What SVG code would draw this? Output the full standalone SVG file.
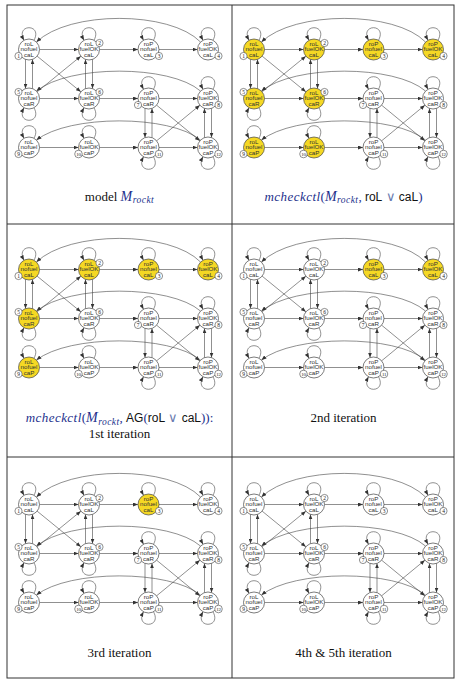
<svg xmlns="http://www.w3.org/2000/svg" xmlns:xlink="http://www.w3.org/1999/xlink" width="462" height="686" viewBox="0 0 462 686">
<style>
.frame{fill:none;stroke:#333;stroke-width:1}
.e path{fill:none;stroke:#444;stroke-width:0.6;marker-end:url(#ah)}
.n{fill:#fff;stroke:#444;stroke-width:0.7}
.y .n{fill:#f5d824}
.t{font-family:"Liberation Sans",Arial,sans-serif;font-size:6.2px;fill:#333;text-anchor:middle}
.l{fill:#fff;stroke:#444;stroke-width:0.6}
.lt{font-family:"Liberation Serif","Times New Roman",serif;font-size:5.5px;fill:#222;text-anchor:middle}
.lt2{font-family:"Liberation Serif","Times New Roman",serif;font-size:5px;fill:#222;text-anchor:middle;letter-spacing:-0.3px}
.cap{font-family:"Liberation Serif","Times New Roman",serif;font-size:13px;fill:#111;text-anchor:middle}
.m{fill:#23308c;font-style:italic;letter-spacing:0.45px}
.mM{font-size:14px}
.mu{fill:#23308c}
.sub{font-size:9.5px}
.sf{font-family:"Liberation Sans",Arial,sans-serif;font-size:12px;fill:#111}
.op{fill:#6a7bb0}
</style>
<defs>
<marker id="ah" markerUnits="userSpaceOnUse" markerWidth="5" markerHeight="4" refX="5" refY="2" orient="auto"><path d="M0,0 L5,2 L0,4 z" fill="#333"/></marker>
<g id="edges" class="e">
<path d="M32.5,45 H71.5"/><path d="M92.5,45 H131"/><path d="M152,45 H190.5"/>
<path d="M32.5,94 H71.5"/><path d="M92.5,94 H131"/><path d="M152,94 H190.5"/>
<path d="M32.5,143 H71.5"/><path d="M92.5,143 H131"/><path d="M152,143 H190.5"/>
<path d="M18.5,54.9 V84.1"/><path d="M25.5,84.1 V54.9"/>
<path d="M78.5,84.1 V54.9"/><path d="M85.5,54.9 V84.1"/>
<path d="M138,103.9 V133.1"/><path d="M145,133.1 V103.9"/>
<path d="M197.5,133.1 V103.9"/><path d="M204.5,103.9 V133.1"/>
<path d="M30.13,51.64 L73.87,87.36"/><path d="M30.13,87.36 L73.87,51.64"/>
<path d="M149.6,100.67 L192.9,136.33"/><path d="M149.6,136.33 L192.9,100.67"/>
<path d="M193.58,37.58 C163,6 62,6 29.42,37.58"/>
<path d="M193.58,86.58 C163,60 62,60 29.42,86.58"/>
<path d="M193.58,135.58 C163,110 62,110 29.42,135.58"/>
<path d="M27,35.77 C36,19 8,19 17,35.77"/><path d="M87,35.77 C96,19 68,19 77,35.77"/>
<path d="M146.5,35.77 C155.5,19 127.5,19 136.5,35.77"/><path d="M206,35.77 C215,19 187,19 196,35.77"/>
<path d="M146.5,84.77 C155.5,68 127.5,68 136.5,84.77"/><path d="M206,84.77 C215,68 187,68 196,84.77"/>
<path d="M27,133.77 C36,117 8,117 17,133.77"/><path d="M87,133.77 C96,117 68,117 77,133.77"/>
<path d="M27,103.23 C36,120 8,120 17,103.23"/><path d="M87,103.23 C96,120 68,120 77,103.23"/>
<path d="M146.5,152.23 C155.5,169 127.5,169 136.5,152.23"/><path d="M206,152.23 C215,169 187,169 196,152.23"/>
</g>
</defs>
<rect x="0" y="0" width="462" height="686" fill="#fff"/>
<rect class="frame" x="7" y="5" width="447" height="673"/>
<line class="frame" x1="232" y1="5" x2="232" y2="678"/>
<line class="frame" x1="7" y1="224" x2="454" y2="224"/>
<line class="frame" x1="7" y1="457" x2="454" y2="457"/>

<g id="panel1" transform="translate(7,4.5)">
<g id="p1-connectors"><use href="#edges" xlink:href="#edges"/></g>
<g id="p1-n1" transform="translate(22,45)"><circle class="n" r="10.5"/><text class="t"><tspan x="0" y="-4">roL</tspan><tspan x="0" y="1.7">nofuel</tspan><tspan x="0" y="7.4">caL</tspan></text><circle class="l" cx="-10.5" cy="6.5" r="3.6"/><text class="lt" x="-10.5" y="8.4">1</text></g>
<g id="p1-n2" transform="translate(82,45)"><circle class="n" r="10.5"/><text class="t"><tspan x="0" y="-4">roL</tspan><tspan x="0" y="1.7">fuelOK</tspan><tspan x="0" y="7.4">caL</tspan></text><circle class="l" cx="10.5" cy="-6.5" r="3.6"/><text class="lt" x="10.5" y="-4.6">2</text></g>
<g id="p1-n3" transform="translate(141.5,45)"><circle class="n" r="10.5"/><text class="t"><tspan x="0" y="-4">roP</tspan><tspan x="0" y="1.7">nofuel</tspan><tspan x="0" y="7.4">caL</tspan></text><circle class="l" cx="10.5" cy="6.5" r="3.6"/><text class="lt" x="10.5" y="8.4">3</text></g>
<g id="p1-n4" transform="translate(201,45)"><circle class="n" r="10.5"/><text class="t"><tspan x="0" y="-4">roP</tspan><tspan x="0" y="1.7">fuelOK</tspan><tspan x="0" y="7.4">caL</tspan></text><circle class="l" cx="10.5" cy="6.5" r="3.6"/><text class="lt" x="10.5" y="8.4">4</text></g>
<g id="p1-n5" transform="translate(22,94)"><circle class="n" r="10.5"/><text class="t"><tspan x="0" y="-4">roL</tspan><tspan x="0" y="1.7">nofuel</tspan><tspan x="0" y="7.4">caR</tspan></text><circle class="l" cx="-10.5" cy="-6.5" r="3.6"/><text class="lt" x="-10.5" y="-4.6">5</text></g>
<g id="p1-n6" transform="translate(82,94)"><circle class="n" r="10.5"/><text class="t"><tspan x="0" y="-4">roL</tspan><tspan x="0" y="1.7">fuelOK</tspan><tspan x="0" y="7.4">caR</tspan></text><circle class="l" cx="10.5" cy="-6.5" r="3.6"/><text class="lt" x="10.5" y="-4.6">6</text></g>
<g id="p1-n7" transform="translate(141.5,94)"><circle class="n" r="10.5"/><text class="t"><tspan x="0" y="-4">roP</tspan><tspan x="0" y="1.7">nofuel</tspan><tspan x="0" y="7.4">caR</tspan></text><circle class="l" cx="-10.5" cy="6.5" r="3.6"/><text class="lt" x="-10.5" y="8.4">7</text></g>
<g id="p1-n8" transform="translate(201,94)"><circle class="n" r="10.5"/><text class="t"><tspan x="0" y="-4">roP</tspan><tspan x="0" y="1.7">fuelOK</tspan><tspan x="0" y="7.4">caR</tspan></text><circle class="l" cx="10.5" cy="6.5" r="3.6"/><text class="lt" x="10.5" y="8.4">8</text></g>
<g id="p1-n9" transform="translate(22,143)"><circle class="n" r="10.5"/><text class="t"><tspan x="0" y="-4">roL</tspan><tspan x="0" y="1.7">nofuel</tspan><tspan x="0" y="7.4">caP</tspan></text><circle class="l" cx="-10.5" cy="6.5" r="3.6"/><text class="lt" x="-10.5" y="8.4">9</text></g>
<g id="p1-n10" transform="translate(82,143)"><circle class="n" r="10.5"/><text class="t"><tspan x="0" y="-4">roL</tspan><tspan x="0" y="1.7">fuelOK</tspan><tspan x="0" y="7.4">caP</tspan></text><circle class="l" cx="-10.5" cy="6.5" r="3.8"/><text class="lt2" x="-10.5" y="8.2">10</text></g>
<g id="p1-n11" transform="translate(141.5,143)"><circle class="n" r="10.5"/><text class="t"><tspan x="0" y="-4">roP</tspan><tspan x="0" y="1.7">nofuel</tspan><tspan x="0" y="7.4">caP</tspan></text><circle class="l" cx="10.5" cy="6.5" r="3.8"/><text class="lt2" x="10.5" y="8.2">11</text></g>
<g id="p1-n12" transform="translate(201,143)"><circle class="n" r="10.5"/><text class="t"><tspan x="0" y="-4">roP</tspan><tspan x="0" y="1.7">fuelOK</tspan><tspan x="0" y="7.4">caP</tspan></text><circle class="l" cx="10.5" cy="6.5" r="3.8"/><text class="lt2" x="10.5" y="8.2">12</text></g>
</g>

<g id="panel2" transform="translate(232,4.5)">
<g id="p2-connectors"><use href="#edges" xlink:href="#edges"/></g>
<g id="p2-n1" class="y" transform="translate(22,45)"><circle class="n" r="10.5"/><text class="t"><tspan x="0" y="-4">roL</tspan><tspan x="0" y="1.7">nofuel</tspan><tspan x="0" y="7.4">caL</tspan></text><circle class="l" cx="-10.5" cy="6.5" r="3.6"/><text class="lt" x="-10.5" y="8.4">1</text></g>
<g id="p2-n2" class="y" transform="translate(82,45)"><circle class="n" r="10.5"/><text class="t"><tspan x="0" y="-4">roL</tspan><tspan x="0" y="1.7">fuelOK</tspan><tspan x="0" y="7.4">caL</tspan></text><circle class="l" cx="10.5" cy="-6.5" r="3.6"/><text class="lt" x="10.5" y="-4.6">2</text></g>
<g id="p2-n3" class="y" transform="translate(141.5,45)"><circle class="n" r="10.5"/><text class="t"><tspan x="0" y="-4">roP</tspan><tspan x="0" y="1.7">nofuel</tspan><tspan x="0" y="7.4">caL</tspan></text><circle class="l" cx="10.5" cy="6.5" r="3.6"/><text class="lt" x="10.5" y="8.4">3</text></g>
<g id="p2-n4" class="y" transform="translate(201,45)"><circle class="n" r="10.5"/><text class="t"><tspan x="0" y="-4">roP</tspan><tspan x="0" y="1.7">fuelOK</tspan><tspan x="0" y="7.4">caL</tspan></text><circle class="l" cx="10.5" cy="6.5" r="3.6"/><text class="lt" x="10.5" y="8.4">4</text></g>
<g id="p2-n5" class="y" transform="translate(22,94)"><circle class="n" r="10.5"/><text class="t"><tspan x="0" y="-4">roL</tspan><tspan x="0" y="1.7">nofuel</tspan><tspan x="0" y="7.4">caR</tspan></text><circle class="l" cx="-10.5" cy="-6.5" r="3.6"/><text class="lt" x="-10.5" y="-4.6">5</text></g>
<g id="p2-n6" class="y" transform="translate(82,94)"><circle class="n" r="10.5"/><text class="t"><tspan x="0" y="-4">roL</tspan><tspan x="0" y="1.7">fuelOK</tspan><tspan x="0" y="7.4">caR</tspan></text><circle class="l" cx="10.5" cy="-6.5" r="3.6"/><text class="lt" x="10.5" y="-4.6">6</text></g>
<g id="p2-n7" transform="translate(141.5,94)"><circle class="n" r="10.5"/><text class="t"><tspan x="0" y="-4">roP</tspan><tspan x="0" y="1.7">nofuel</tspan><tspan x="0" y="7.4">caR</tspan></text><circle class="l" cx="-10.5" cy="6.5" r="3.6"/><text class="lt" x="-10.5" y="8.4">7</text></g>
<g id="p2-n8" transform="translate(201,94)"><circle class="n" r="10.5"/><text class="t"><tspan x="0" y="-4">roP</tspan><tspan x="0" y="1.7">fuelOK</tspan><tspan x="0" y="7.4">caR</tspan></text><circle class="l" cx="10.5" cy="6.5" r="3.6"/><text class="lt" x="10.5" y="8.4">8</text></g>
<g id="p2-n9" class="y" transform="translate(22,143)"><circle class="n" r="10.5"/><text class="t"><tspan x="0" y="-4">roL</tspan><tspan x="0" y="1.7">nofuel</tspan><tspan x="0" y="7.4">caP</tspan></text><circle class="l" cx="-10.5" cy="6.5" r="3.6"/><text class="lt" x="-10.5" y="8.4">9</text></g>
<g id="p2-n10" class="y" transform="translate(82,143)"><circle class="n" r="10.5"/><text class="t"><tspan x="0" y="-4">roL</tspan><tspan x="0" y="1.7">fuelOK</tspan><tspan x="0" y="7.4">caP</tspan></text><circle class="l" cx="-10.5" cy="6.5" r="3.8"/><text class="lt2" x="-10.5" y="8.2">10</text></g>
<g id="p2-n11" transform="translate(141.5,143)"><circle class="n" r="10.5"/><text class="t"><tspan x="0" y="-4">roP</tspan><tspan x="0" y="1.7">nofuel</tspan><tspan x="0" y="7.4">caP</tspan></text><circle class="l" cx="10.5" cy="6.5" r="3.8"/><text class="lt2" x="10.5" y="8.2">11</text></g>
<g id="p2-n12" transform="translate(201,143)"><circle class="n" r="10.5"/><text class="t"><tspan x="0" y="-4">roP</tspan><tspan x="0" y="1.7">fuelOK</tspan><tspan x="0" y="7.4">caP</tspan></text><circle class="l" cx="10.5" cy="6.5" r="3.8"/><text class="lt2" x="10.5" y="8.2">12</text></g>
</g>

<g id="panel3" transform="translate(7,224.5)">
<g id="p3-connectors"><use href="#edges" xlink:href="#edges"/></g>
<g id="p3-n1" class="y" transform="translate(22,45)"><circle class="n" r="10.5"/><text class="t"><tspan x="0" y="-4">roL</tspan><tspan x="0" y="1.7">nofuel</tspan><tspan x="0" y="7.4">caL</tspan></text><circle class="l" cx="-10.5" cy="6.5" r="3.6"/><text class="lt" x="-10.5" y="8.4">1</text></g>
<g id="p3-n2" class="y" transform="translate(82,45)"><circle class="n" r="10.5"/><text class="t"><tspan x="0" y="-4">roL</tspan><tspan x="0" y="1.7">fuelOK</tspan><tspan x="0" y="7.4">caL</tspan></text><circle class="l" cx="10.5" cy="-6.5" r="3.6"/><text class="lt" x="10.5" y="-4.6">2</text></g>
<g id="p3-n3" class="y" transform="translate(141.5,45)"><circle class="n" r="10.5"/><text class="t"><tspan x="0" y="-4">roP</tspan><tspan x="0" y="1.7">nofuel</tspan><tspan x="0" y="7.4">caL</tspan></text><circle class="l" cx="10.5" cy="6.5" r="3.6"/><text class="lt" x="10.5" y="8.4">3</text></g>
<g id="p3-n4" class="y" transform="translate(201,45)"><circle class="n" r="10.5"/><text class="t"><tspan x="0" y="-4">roP</tspan><tspan x="0" y="1.7">fuelOK</tspan><tspan x="0" y="7.4">caL</tspan></text><circle class="l" cx="10.5" cy="6.5" r="3.6"/><text class="lt" x="10.5" y="8.4">4</text></g>
<g id="p3-n5" class="y" transform="translate(22,94)"><circle class="n" r="10.5"/><text class="t"><tspan x="0" y="-4">roL</tspan><tspan x="0" y="1.7">nofuel</tspan><tspan x="0" y="7.4">caR</tspan></text><circle class="l" cx="-10.5" cy="-6.5" r="3.6"/><text class="lt" x="-10.5" y="-4.6">5</text></g>
<g id="p3-n6" transform="translate(82,94)"><circle class="n" r="10.5"/><text class="t"><tspan x="0" y="-4">roL</tspan><tspan x="0" y="1.7">fuelOK</tspan><tspan x="0" y="7.4">caR</tspan></text><circle class="l" cx="10.5" cy="-6.5" r="3.6"/><text class="lt" x="10.5" y="-4.6">6</text></g>
<g id="p3-n7" transform="translate(141.5,94)"><circle class="n" r="10.5"/><text class="t"><tspan x="0" y="-4">roP</tspan><tspan x="0" y="1.7">nofuel</tspan><tspan x="0" y="7.4">caR</tspan></text><circle class="l" cx="-10.5" cy="6.5" r="3.6"/><text class="lt" x="-10.5" y="8.4">7</text></g>
<g id="p3-n8" transform="translate(201,94)"><circle class="n" r="10.5"/><text class="t"><tspan x="0" y="-4">roP</tspan><tspan x="0" y="1.7">fuelOK</tspan><tspan x="0" y="7.4">caR</tspan></text><circle class="l" cx="10.5" cy="6.5" r="3.6"/><text class="lt" x="10.5" y="8.4">8</text></g>
<g id="p3-n9" class="y" transform="translate(22,143)"><circle class="n" r="10.5"/><text class="t"><tspan x="0" y="-4">roL</tspan><tspan x="0" y="1.7">nofuel</tspan><tspan x="0" y="7.4">caP</tspan></text><circle class="l" cx="-10.5" cy="6.5" r="3.6"/><text class="lt" x="-10.5" y="8.4">9</text></g>
<g id="p3-n10" transform="translate(82,143)"><circle class="n" r="10.5"/><text class="t"><tspan x="0" y="-4">roL</tspan><tspan x="0" y="1.7">fuelOK</tspan><tspan x="0" y="7.4">caP</tspan></text><circle class="l" cx="-10.5" cy="6.5" r="3.8"/><text class="lt2" x="-10.5" y="8.2">10</text></g>
<g id="p3-n11" transform="translate(141.5,143)"><circle class="n" r="10.5"/><text class="t"><tspan x="0" y="-4">roP</tspan><tspan x="0" y="1.7">nofuel</tspan><tspan x="0" y="7.4">caP</tspan></text><circle class="l" cx="10.5" cy="6.5" r="3.8"/><text class="lt2" x="10.5" y="8.2">11</text></g>
<g id="p3-n12" transform="translate(201,143)"><circle class="n" r="10.5"/><text class="t"><tspan x="0" y="-4">roP</tspan><tspan x="0" y="1.7">fuelOK</tspan><tspan x="0" y="7.4">caP</tspan></text><circle class="l" cx="10.5" cy="6.5" r="3.8"/><text class="lt2" x="10.5" y="8.2">12</text></g>
</g>

<g id="panel4" transform="translate(232,224.5)">
<g id="p4-connectors"><use href="#edges" xlink:href="#edges"/></g>
<g id="p4-n1" transform="translate(22,45)"><circle class="n" r="10.5"/><text class="t"><tspan x="0" y="-4">roL</tspan><tspan x="0" y="1.7">nofuel</tspan><tspan x="0" y="7.4">caL</tspan></text><circle class="l" cx="-10.5" cy="6.5" r="3.6"/><text class="lt" x="-10.5" y="8.4">1</text></g>
<g id="p4-n2" transform="translate(82,45)"><circle class="n" r="10.5"/><text class="t"><tspan x="0" y="-4">roL</tspan><tspan x="0" y="1.7">fuelOK</tspan><tspan x="0" y="7.4">caL</tspan></text><circle class="l" cx="10.5" cy="-6.5" r="3.6"/><text class="lt" x="10.5" y="-4.6">2</text></g>
<g id="p4-n3" class="y" transform="translate(141.5,45)"><circle class="n" r="10.5"/><text class="t"><tspan x="0" y="-4">roP</tspan><tspan x="0" y="1.7">nofuel</tspan><tspan x="0" y="7.4">caL</tspan></text><circle class="l" cx="10.5" cy="6.5" r="3.6"/><text class="lt" x="10.5" y="8.4">3</text></g>
<g id="p4-n4" class="y" transform="translate(201,45)"><circle class="n" r="10.5"/><text class="t"><tspan x="0" y="-4">roP</tspan><tspan x="0" y="1.7">fuelOK</tspan><tspan x="0" y="7.4">caL</tspan></text><circle class="l" cx="10.5" cy="6.5" r="3.6"/><text class="lt" x="10.5" y="8.4">4</text></g>
<g id="p4-n5" transform="translate(22,94)"><circle class="n" r="10.5"/><text class="t"><tspan x="0" y="-4">roL</tspan><tspan x="0" y="1.7">nofuel</tspan><tspan x="0" y="7.4">caR</tspan></text><circle class="l" cx="-10.5" cy="-6.5" r="3.6"/><text class="lt" x="-10.5" y="-4.6">5</text></g>
<g id="p4-n6" transform="translate(82,94)"><circle class="n" r="10.5"/><text class="t"><tspan x="0" y="-4">roL</tspan><tspan x="0" y="1.7">fuelOK</tspan><tspan x="0" y="7.4">caR</tspan></text><circle class="l" cx="10.5" cy="-6.5" r="3.6"/><text class="lt" x="10.5" y="-4.6">6</text></g>
<g id="p4-n7" transform="translate(141.5,94)"><circle class="n" r="10.5"/><text class="t"><tspan x="0" y="-4">roP</tspan><tspan x="0" y="1.7">nofuel</tspan><tspan x="0" y="7.4">caR</tspan></text><circle class="l" cx="-10.5" cy="6.5" r="3.6"/><text class="lt" x="-10.5" y="8.4">7</text></g>
<g id="p4-n8" transform="translate(201,94)"><circle class="n" r="10.5"/><text class="t"><tspan x="0" y="-4">roP</tspan><tspan x="0" y="1.7">fuelOK</tspan><tspan x="0" y="7.4">caR</tspan></text><circle class="l" cx="10.5" cy="6.5" r="3.6"/><text class="lt" x="10.5" y="8.4">8</text></g>
<g id="p4-n9" transform="translate(22,143)"><circle class="n" r="10.5"/><text class="t"><tspan x="0" y="-4">roL</tspan><tspan x="0" y="1.7">nofuel</tspan><tspan x="0" y="7.4">caP</tspan></text><circle class="l" cx="-10.5" cy="6.5" r="3.6"/><text class="lt" x="-10.5" y="8.4">9</text></g>
<g id="p4-n10" transform="translate(82,143)"><circle class="n" r="10.5"/><text class="t"><tspan x="0" y="-4">roL</tspan><tspan x="0" y="1.7">fuelOK</tspan><tspan x="0" y="7.4">caP</tspan></text><circle class="l" cx="-10.5" cy="6.5" r="3.8"/><text class="lt2" x="-10.5" y="8.2">10</text></g>
<g id="p4-n11" transform="translate(141.5,143)"><circle class="n" r="10.5"/><text class="t"><tspan x="0" y="-4">roP</tspan><tspan x="0" y="1.7">nofuel</tspan><tspan x="0" y="7.4">caP</tspan></text><circle class="l" cx="10.5" cy="6.5" r="3.8"/><text class="lt2" x="10.5" y="8.2">11</text></g>
<g id="p4-n12" transform="translate(201,143)"><circle class="n" r="10.5"/><text class="t"><tspan x="0" y="-4">roP</tspan><tspan x="0" y="1.7">fuelOK</tspan><tspan x="0" y="7.4">caP</tspan></text><circle class="l" cx="10.5" cy="6.5" r="3.8"/><text class="lt2" x="10.5" y="8.2">12</text></g>
</g>

<g id="panel5" transform="translate(7,459.5)">
<g id="p5-connectors"><use href="#edges" xlink:href="#edges"/></g>
<g id="p5-n1" transform="translate(22,45)"><circle class="n" r="10.5"/><text class="t"><tspan x="0" y="-4">roL</tspan><tspan x="0" y="1.7">nofuel</tspan><tspan x="0" y="7.4">caL</tspan></text><circle class="l" cx="-10.5" cy="6.5" r="3.6"/><text class="lt" x="-10.5" y="8.4">1</text></g>
<g id="p5-n2" transform="translate(82,45)"><circle class="n" r="10.5"/><text class="t"><tspan x="0" y="-4">roL</tspan><tspan x="0" y="1.7">fuelOK</tspan><tspan x="0" y="7.4">caL</tspan></text><circle class="l" cx="10.5" cy="-6.5" r="3.6"/><text class="lt" x="10.5" y="-4.6">2</text></g>
<g id="p5-n3" class="y" transform="translate(141.5,45)"><circle class="n" r="10.5"/><text class="t"><tspan x="0" y="-4">roP</tspan><tspan x="0" y="1.7">nofuel</tspan><tspan x="0" y="7.4">caL</tspan></text><circle class="l" cx="10.5" cy="6.5" r="3.6"/><text class="lt" x="10.5" y="8.4">3</text></g>
<g id="p5-n4" transform="translate(201,45)"><circle class="n" r="10.5"/><text class="t"><tspan x="0" y="-4">roP</tspan><tspan x="0" y="1.7">fuelOK</tspan><tspan x="0" y="7.4">caL</tspan></text><circle class="l" cx="10.5" cy="6.5" r="3.6"/><text class="lt" x="10.5" y="8.4">4</text></g>
<g id="p5-n5" transform="translate(22,94)"><circle class="n" r="10.5"/><text class="t"><tspan x="0" y="-4">roL</tspan><tspan x="0" y="1.7">nofuel</tspan><tspan x="0" y="7.4">caR</tspan></text><circle class="l" cx="-10.5" cy="-6.5" r="3.6"/><text class="lt" x="-10.5" y="-4.6">5</text></g>
<g id="p5-n6" transform="translate(82,94)"><circle class="n" r="10.5"/><text class="t"><tspan x="0" y="-4">roL</tspan><tspan x="0" y="1.7">fuelOK</tspan><tspan x="0" y="7.4">caR</tspan></text><circle class="l" cx="10.5" cy="-6.5" r="3.6"/><text class="lt" x="10.5" y="-4.6">6</text></g>
<g id="p5-n7" transform="translate(141.5,94)"><circle class="n" r="10.5"/><text class="t"><tspan x="0" y="-4">roP</tspan><tspan x="0" y="1.7">nofuel</tspan><tspan x="0" y="7.4">caR</tspan></text><circle class="l" cx="-10.5" cy="6.5" r="3.6"/><text class="lt" x="-10.5" y="8.4">7</text></g>
<g id="p5-n8" transform="translate(201,94)"><circle class="n" r="10.5"/><text class="t"><tspan x="0" y="-4">roP</tspan><tspan x="0" y="1.7">fuelOK</tspan><tspan x="0" y="7.4">caR</tspan></text><circle class="l" cx="10.5" cy="6.5" r="3.6"/><text class="lt" x="10.5" y="8.4">8</text></g>
<g id="p5-n9" transform="translate(22,143)"><circle class="n" r="10.5"/><text class="t"><tspan x="0" y="-4">roL</tspan><tspan x="0" y="1.7">nofuel</tspan><tspan x="0" y="7.4">caP</tspan></text><circle class="l" cx="-10.5" cy="6.5" r="3.6"/><text class="lt" x="-10.5" y="8.4">9</text></g>
<g id="p5-n10" transform="translate(82,143)"><circle class="n" r="10.5"/><text class="t"><tspan x="0" y="-4">roL</tspan><tspan x="0" y="1.7">fuelOK</tspan><tspan x="0" y="7.4">caP</tspan></text><circle class="l" cx="-10.5" cy="6.5" r="3.8"/><text class="lt2" x="-10.5" y="8.2">10</text></g>
<g id="p5-n11" transform="translate(141.5,143)"><circle class="n" r="10.5"/><text class="t"><tspan x="0" y="-4">roP</tspan><tspan x="0" y="1.7">nofuel</tspan><tspan x="0" y="7.4">caP</tspan></text><circle class="l" cx="10.5" cy="6.5" r="3.8"/><text class="lt2" x="10.5" y="8.2">11</text></g>
<g id="p5-n12" transform="translate(201,143)"><circle class="n" r="10.5"/><text class="t"><tspan x="0" y="-4">roP</tspan><tspan x="0" y="1.7">fuelOK</tspan><tspan x="0" y="7.4">caP</tspan></text><circle class="l" cx="10.5" cy="6.5" r="3.8"/><text class="lt2" x="10.5" y="8.2">12</text></g>
</g>

<g id="panel6" transform="translate(232,459.5)">
<g id="p6-connectors"><use href="#edges" xlink:href="#edges"/></g>
<g id="p6-n1" transform="translate(22,45)"><circle class="n" r="10.5"/><text class="t"><tspan x="0" y="-4">roL</tspan><tspan x="0" y="1.7">nofuel</tspan><tspan x="0" y="7.4">caL</tspan></text><circle class="l" cx="-10.5" cy="6.5" r="3.6"/><text class="lt" x="-10.5" y="8.4">1</text></g>
<g id="p6-n2" transform="translate(82,45)"><circle class="n" r="10.5"/><text class="t"><tspan x="0" y="-4">roL</tspan><tspan x="0" y="1.7">fuelOK</tspan><tspan x="0" y="7.4">caL</tspan></text><circle class="l" cx="10.5" cy="-6.5" r="3.6"/><text class="lt" x="10.5" y="-4.6">2</text></g>
<g id="p6-n3" transform="translate(141.5,45)"><circle class="n" r="10.5"/><text class="t"><tspan x="0" y="-4">roP</tspan><tspan x="0" y="1.7">nofuel</tspan><tspan x="0" y="7.4">caL</tspan></text><circle class="l" cx="10.5" cy="6.5" r="3.6"/><text class="lt" x="10.5" y="8.4">3</text></g>
<g id="p6-n4" transform="translate(201,45)"><circle class="n" r="10.5"/><text class="t"><tspan x="0" y="-4">roP</tspan><tspan x="0" y="1.7">fuelOK</tspan><tspan x="0" y="7.4">caL</tspan></text><circle class="l" cx="10.5" cy="6.5" r="3.6"/><text class="lt" x="10.5" y="8.4">4</text></g>
<g id="p6-n5" transform="translate(22,94)"><circle class="n" r="10.5"/><text class="t"><tspan x="0" y="-4">roL</tspan><tspan x="0" y="1.7">nofuel</tspan><tspan x="0" y="7.4">caR</tspan></text><circle class="l" cx="-10.5" cy="-6.5" r="3.6"/><text class="lt" x="-10.5" y="-4.6">5</text></g>
<g id="p6-n6" transform="translate(82,94)"><circle class="n" r="10.5"/><text class="t"><tspan x="0" y="-4">roL</tspan><tspan x="0" y="1.7">fuelOK</tspan><tspan x="0" y="7.4">caR</tspan></text><circle class="l" cx="10.5" cy="-6.5" r="3.6"/><text class="lt" x="10.5" y="-4.6">6</text></g>
<g id="p6-n7" transform="translate(141.5,94)"><circle class="n" r="10.5"/><text class="t"><tspan x="0" y="-4">roP</tspan><tspan x="0" y="1.7">nofuel</tspan><tspan x="0" y="7.4">caR</tspan></text><circle class="l" cx="-10.5" cy="6.5" r="3.6"/><text class="lt" x="-10.5" y="8.4">7</text></g>
<g id="p6-n8" transform="translate(201,94)"><circle class="n" r="10.5"/><text class="t"><tspan x="0" y="-4">roP</tspan><tspan x="0" y="1.7">fuelOK</tspan><tspan x="0" y="7.4">caR</tspan></text><circle class="l" cx="10.5" cy="6.5" r="3.6"/><text class="lt" x="10.5" y="8.4">8</text></g>
<g id="p6-n9" transform="translate(22,143)"><circle class="n" r="10.5"/><text class="t"><tspan x="0" y="-4">roL</tspan><tspan x="0" y="1.7">nofuel</tspan><tspan x="0" y="7.4">caP</tspan></text><circle class="l" cx="-10.5" cy="6.5" r="3.6"/><text class="lt" x="-10.5" y="8.4">9</text></g>
<g id="p6-n10" transform="translate(82,143)"><circle class="n" r="10.5"/><text class="t"><tspan x="0" y="-4">roL</tspan><tspan x="0" y="1.7">fuelOK</tspan><tspan x="0" y="7.4">caP</tspan></text><circle class="l" cx="-10.5" cy="6.5" r="3.8"/><text class="lt2" x="-10.5" y="8.2">10</text></g>
<g id="p6-n11" transform="translate(141.5,143)"><circle class="n" r="10.5"/><text class="t"><tspan x="0" y="-4">roP</tspan><tspan x="0" y="1.7">nofuel</tspan><tspan x="0" y="7.4">caP</tspan></text><circle class="l" cx="10.5" cy="6.5" r="3.8"/><text class="lt2" x="10.5" y="8.2">11</text></g>
<g id="p6-n12" transform="translate(201,143)"><circle class="n" r="10.5"/><text class="t"><tspan x="0" y="-4">roP</tspan><tspan x="0" y="1.7">fuelOK</tspan><tspan x="0" y="7.4">caP</tspan></text><circle class="l" cx="10.5" cy="6.5" r="3.8"/><text class="lt2" x="10.5" y="8.2">12</text></g>
</g>

<g id="captions">
<text class="cap" x="119.5" y="200.5">model <tspan class="m mM">M</tspan><tspan class="m sub" dy="2.5">rockt</tspan></text>
<text class="cap" x="343.5" y="200.5"><tspan class="m">mcheckctl</tspan><tspan class="mu">(</tspan><tspan class="m mM">M</tspan><tspan class="m sub" dy="2.5">rockt</tspan><tspan class="mu" dy="-2.5">, </tspan><tspan class="sf">roL</tspan><tspan class="op"> ∨ </tspan><tspan class="sf">caL</tspan><tspan class="mu">)</tspan></text>
<text class="cap" x="119.5" y="422"><tspan class="m">mcheckctl</tspan><tspan class="mu">(</tspan><tspan class="m mM">M</tspan><tspan class="m sub" dy="2.5">rockt</tspan><tspan class="mu" dy="-2.5">, </tspan><tspan class="sf">AG</tspan><tspan class="mu">(</tspan><tspan class="sf">roL</tspan><tspan class="op"> ∨ </tspan><tspan class="sf">caL</tspan><tspan class="mu">)):</tspan></text>
<text class="cap" x="119.5" y="437.5">1st iteration</text>
<text class="cap" x="343.5" y="421.7">2nd iteration</text>
<text class="cap" x="119.5" y="656.5">3rd iteration</text>
<text class="cap" x="343.5" y="656.5">4th &amp; 5th iteration</text>
</g>
</svg>
